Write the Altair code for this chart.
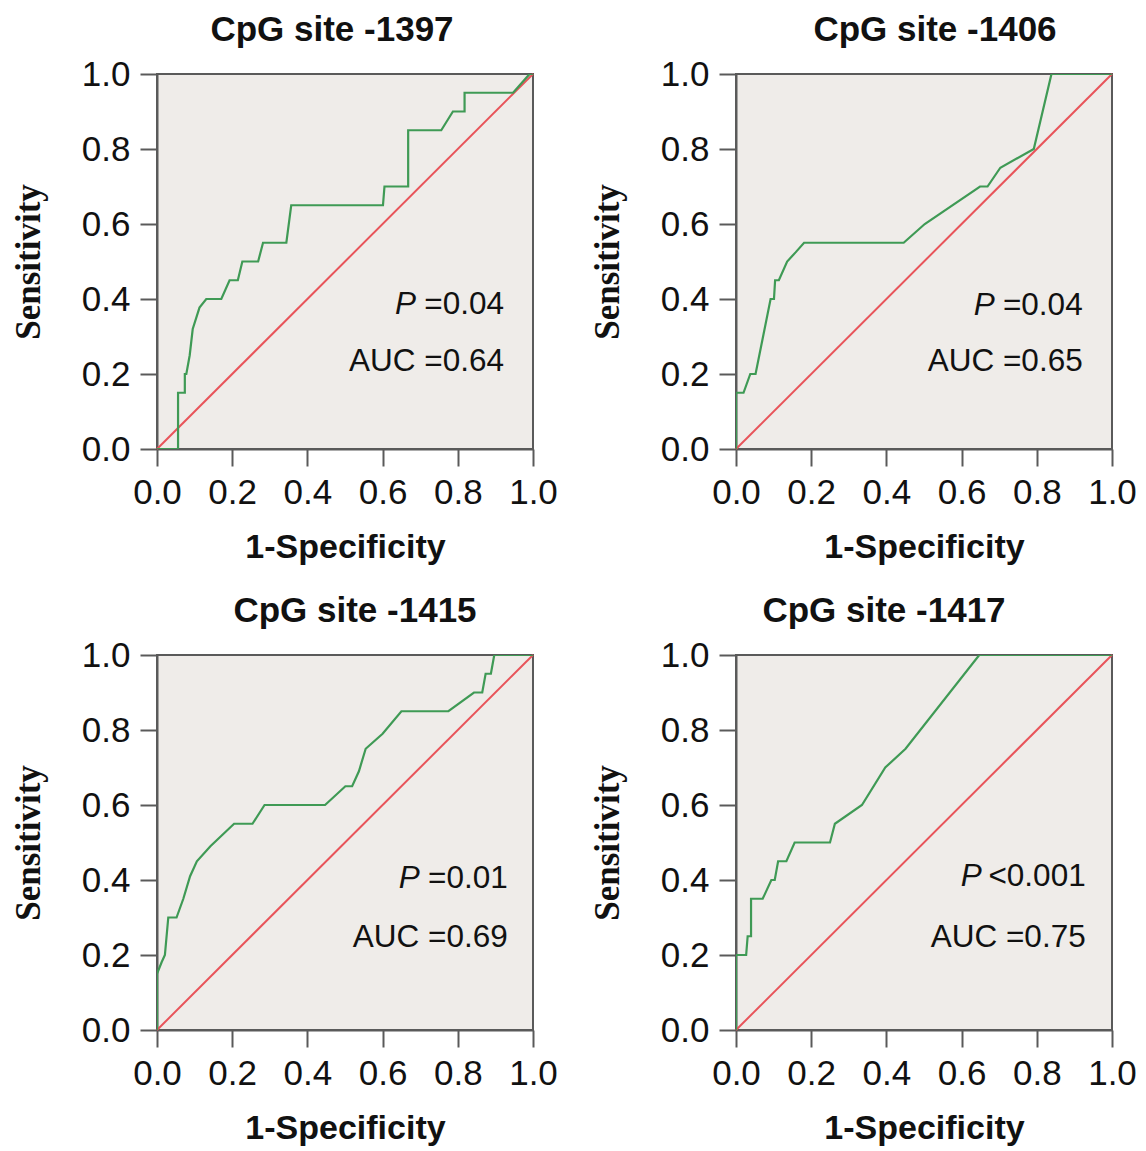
import altair as alt
import pandas as pd

# ---------------- data ----------------
titles = ["CpG site -1397", "CpG site -1406", "CpG site -1415", "CpG site -1417"]

fpr_1397 = [0, 0.056, 0.056, 0.074, 0.074, 0.078, 0.087, 0.095, 0.113, 0.131, 0.171, 0.193, 0.215,
            0.227, 0.269, 0.282, 0.344, 0.357, 0.601, 0.605, 0.668, 0.668, 0.756, 0.787, 0.818,
            0.818, 0.947, 0.991, 1.0]
tpr_1397 = [0, 0, 0.15, 0.15, 0.20, 0.20, 0.25, 0.32, 0.377, 0.40, 0.40, 0.45, 0.45,
            0.50, 0.50, 0.55, 0.55, 0.65, 0.65, 0.70, 0.70, 0.85, 0.85, 0.90, 0.90,
            0.95, 0.95, 1.0, 1.0]

fpr_1406 = [0, 0, 0.02, 0.038, 0.052, 0.092, 0.101, 0.104, 0.114, 0.136, 0.159, 0.181, 0.446,
            0.502, 0.649, 0.669, 0.703, 0.792, 0.839, 1.0]
tpr_1406 = [0, 0.15, 0.15, 0.20, 0.20, 0.40, 0.40, 0.45, 0.45, 0.50, 0.525, 0.55, 0.55,
            0.60, 0.70, 0.70, 0.75, 0.80, 1.0, 1.0]

fpr_1415 = [0, 0, 0.012, 0.021, 0.03, 0.052, 0.07, 0.088, 0.106, 0.142, 0.205, 0.254, 0.286,
            0.447, 0.501, 0.519, 0.537, 0.555, 0.6, 0.65, 0.775, 0.843, 0.865, 0.874, 0.888,
            0.897, 1.0]
tpr_1415 = [0, 0.15, 0.18, 0.20, 0.30, 0.30, 0.35, 0.41, 0.45, 0.49, 0.55, 0.55, 0.60,
            0.60, 0.65, 0.65, 0.69, 0.75, 0.79, 0.85, 0.85, 0.90, 0.90, 0.95, 0.95,
            1.0, 1.0]

fpr_1417 = [0, 0, 0.027, 0.031, 0.04, 0.04, 0.071, 0.094, 0.103, 0.112, 0.134, 0.156, 0.25,
            0.263, 0.335, 0.397, 0.451, 0.647, 1.0]
tpr_1417 = [0, 0.20, 0.20, 0.25, 0.25, 0.35, 0.35, 0.40, 0.40, 0.45, 0.45, 0.50, 0.50,
            0.55, 0.60, 0.70, 0.75, 1.0, 1.0]

p_ops = ["=", "=", "=", "<"]
p_vals = ["0.04", "0.04", "0.01", "0.001"]
auc_vals = ["0.64", "0.65", "0.69", "0.75"]

ticks = [0.0, 0.2, 0.4, 0.6, 0.8, 1.0]

curves = [(fpr_1397, tpr_1397), (fpr_1406, tpr_1406), (fpr_1415, tpr_1415), (fpr_1417, tpr_1417)]

# annotation anchors (data coords): right edge x, P-row y, AUC-row y
ann_x = [0.923, 0.922, 0.933, 0.93]
ann_yp = [0.384, 0.381, 0.404, 0.408]
ann_ya = [0.232, 0.232, 0.246, 0.246]
title_dx = [-13, 11, 10, -40]

GREEN = "#3f9a55"
RED = "#e8545a"
FONT = "Liberation Sans"

xscale = alt.Scale(domain=[0, 1], nice=False, padding=0)
yscale = alt.Scale(domain=[0, 1], nice=False, padding=0)


def panel(i):
    fpr, tpr = curves[i]
    roc = pd.DataFrame({"fpr": fpr, "tpr": tpr, "idx": list(range(len(fpr)))})
    diag = pd.DataFrame({"fpr": [0, 1], "tpr": [0, 1]})

    xenc = alt.X("fpr:Q", scale=xscale, title="1-Specificity",
                 axis=alt.Axis(values=ticks, format=".1f", labelFlush=False, labelOverlap=False))
    yenc = alt.Y("tpr:Q", scale=yscale, title="Sensitivity",
                 axis=alt.Axis(values=ticks, format=".1f", labelFlush=False, labelOverlap=False))

    ref = alt.Chart(diag).mark_line(color=RED, strokeWidth=2).encode(x=xenc, y=yenc)
    curve = alt.Chart(roc).mark_line(color=GREEN, strokeWidth=2.2, clip=True).encode(
        x=xenc, y=yenc, order="idx:Q")

    txt = pd.DataFrame({
        "x": [ann_x[i], ann_x[i], ann_x[i]],
        "y": [ann_yp[i], ann_yp[i], ann_ya[i]],
        "t": [p_ops[i] + p_vals[i], "P", "AUC =" + auc_vals[i]],
        "kind": ["pval", "P", "auc"],
    })
    dxP = -104 if p_ops[i] == "<" else -88
    base = alt.Chart(txt).encode(x=alt.X("x:Q", scale=xscale), y=alt.Y("y:Q", scale=yscale), text="t:N")
    t_plain = base.transform_filter(alt.datum.kind != "P").mark_text(
        align="right", baseline="middle", font=FONT, fontSize=31.5, color="#111111")
    t_italic = base.transform_filter(alt.datum.kind == "P").mark_text(
        align="right", baseline="middle", font=FONT, fontSize=31.5, fontStyle="italic",
        color="#111111", dx=dxP)

    return alt.layer(ref, curve, t_plain, t_italic).properties(
        width=376, height=375,
        title=alt.TitleParams(titles[i], font=FONT, fontSize=35, fontWeight="bold",
                              color="#111111", dx=title_dx[i], offset=9, anchor="middle"),
    )


chart = alt.concat(*[panel(i) for i in range(4)], columns=2,
                   spacing=alt.RowColnumber(row=206, column=203), bounds="flush").properties(
    padding={"left": 2, "top": 4, "right": 0, "bottom": 0}
).configure_view(
    fill="#efece9", stroke="#5a5a5a", strokeWidth=2
).configure_axis(
    grid=False, domainColor="#5a5a5a", domainWidth=2, tickColor="#5a5a5a", tickWidth=2,
    tickSize=17, labelFont=FONT, labelFontSize=35, labelColor="#111111",
    titleColor="#111111",
).configure_axisX(
    labelPadding=9, titleFont=FONT, titleFontSize=34, titleFontWeight="bold", titlePadding=20,
).configure_axisY(
    labelPadding=10, titleFont="Liberation Serif", titleFontSize=35, titleFontWeight="bold",
    titlePadding=35,
)

chart.save("out.html", embed_options={"renderer": "svg", "actions": False})
